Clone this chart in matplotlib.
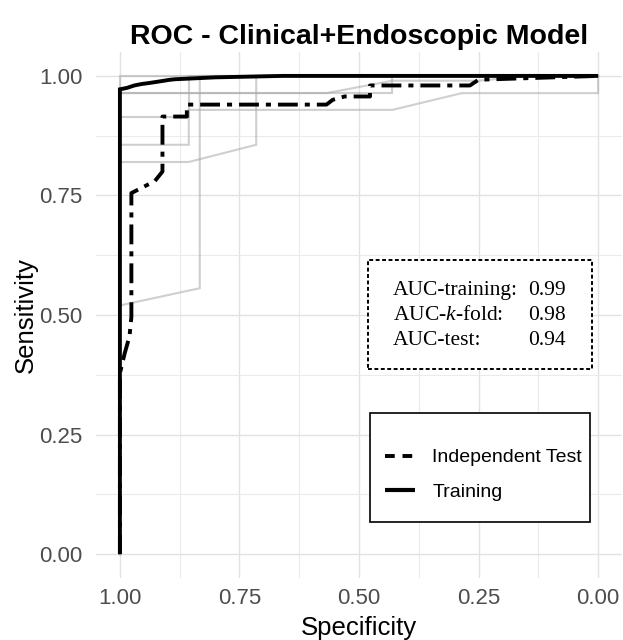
import matplotlib
matplotlib.use("Agg")
import matplotlib.pyplot as plt
from matplotlib.lines import Line2D
from matplotlib.patches import Rectangle

plt.rcParams['font.family'] = ['Liberation Sans', 'DejaVu Sans']
plt.rcParams['mathtext.fontset'] = 'custom'
plt.rcParams['mathtext.rm'] = 'Liberation Serif'
plt.rcParams['mathtext.it'] = 'Liberation Serif:italic'

# ---------------- data ----------------
title = "ROC - Clinical+Endoscopic Model"
x_label = "Specificity"
y_label = "Sensitivity"
tick_values = [1.00, 0.75, 0.50, 0.25, 0.00]
tick_labels = ["1.00", "0.75", "0.50", "0.25", "0.00"]

train_spec = [1.0, 1.0, 0.985, 0.97, 0.955, 0.94, 0.92, 0.895, 0.885, 0.80, 0.66, 0.0]
train_sens = [0.0, 0.972, 0.975, 0.980, 0.983, 0.985, 0.988, 0.992, 0.993, 0.997, 1.0, 1.0]

test_spec = [1.0, 1.0, 0.99, 0.98, 0.976, 0.976, 0.927, 0.911, 0.911, 0.86, 0.86,
             0.568, 0.555, 0.53, 0.477, 0.477, 0.268, 0.25, 0.0]
test_sens = [0.0, 0.378, 0.42, 0.455, 0.496, 0.755, 0.78, 0.80, 0.915, 0.915, 0.94,
             0.94, 0.95, 0.957, 0.957, 0.98, 0.98, 0.992, 1.0]

fold1_spec = [1.0, 1.0, 0.833, 0.833, 0.0]
fold1_sens = [0.0, 0.52, 0.556, 1.0, 1.0]
fold2_spec = [1.0, 1.0, 0.856, 0.715, 0.715, 0.0]
fold2_sens = [0.0, 0.82, 0.82, 0.856, 1.0, 1.0]
fold3_spec = [1.0, 1.0, 0.856, 0.856, 0.43, 0.285, 0.0, 0.0]
fold3_sens = [0.0, 0.856, 0.856, 0.929, 0.929, 0.964, 0.964, 1.0]
fold4_spec = [1.0, 1.0, 0.856, 0.856, 0.0]
fold4_sens = [0.0, 0.915, 0.915, 1.0, 1.0]
fold5_spec = [1.0, 1.0, 0.568, 0.43, 0.25, 0.14, 0.0]
fold5_sens = [0.0, 0.964, 0.964, 0.99, 0.99, 1.0, 1.0]
fold6_spec = [1.0, 1.0, 0.0]
fold6_sens = [0.0, 1.0, 1.0]
fold7_spec = [1.0, 1.0, 0.43, 0.43, 0.0]
fold7_sens = [0.0, 0.964, 0.964, 1.0, 1.0]

folds = [(fold1_spec, fold1_sens), (fold2_spec, fold2_sens), (fold3_spec, fold3_sens),
         (fold4_spec, fold4_sens), (fold5_spec, fold5_sens), (fold6_spec, fold6_sens),
         (fold7_spec, fold7_sens)]

auc_names = ["AUC-training:", "AUC-$k$-fold:", "AUC-test:"]
auc_values = ["0.99", "0.98", "0.94"]
legend_labels = ["Independent Test", "Training"]

# ---------------- figure ----------------
W, H = 623, 640
fig = plt.figure(figsize=(W / 100, H / 100), dpi=100)
fig.patch.set_facecolor('white')

def fx(px):
    return px / W

def fy(py):
    return 1 - py / H

ax = fig.add_axes([fx(96), fy(578), 526 / W, 526 / H])
ax.set_xlim(1.05, -0.05)
ax.set_ylim(-0.05, 1.05)

ax.set_xticks(tick_values)
ax.set_xticklabels(tick_labels)
ax.set_yticks(tick_values[::-1])
ax.set_yticklabels(tick_labels[::-1])
ax.set_xticks([0.875, 0.625, 0.375, 0.125], minor=True)
ax.set_yticks([0.125, 0.375, 0.625, 0.875], minor=True)
ax.grid(which='major', color='#e2e2e2', lw=1.0)
ax.grid(which='minor', color='#ebebeb', lw=0.8)
ax.set_axisbelow(True)
for s in ax.spines.values():
    s.set_visible(False)
ax.tick_params(which='both', length=0)
ax.tick_params(axis='x', labelsize=16, labelcolor='#4d4d4d', pad=7)
ax.tick_params(axis='y', labelsize=16, labelcolor='#4d4d4d', pad=9.5)

for fs, fsn in folds:
    ax.plot(fs, fsn, color='#a8a8a8', alpha=0.55, lw=1.5, solid_joinstyle='miter', zorder=2)

ax.plot(train_spec, train_sens, color='black', lw=2.8, zorder=3,
        solid_capstyle='butt', solid_joinstyle='miter')
ax.plot(test_spec, test_sens, color='black', lw=2.8, zorder=4,
        dashes=(5.1, 1.8, 1.3, 1.8), dash_capstyle='butt')

ax.set_xlabel(x_label, fontsize=18.5, color='black', labelpad=5)
ax.set_ylabel(y_label, fontsize=18.5, color='black', labelpad=1)

fig.text(fx(359), fy(44), title, fontsize=20.5, fontweight='bold',
         ha='center', va='baseline')

# AUC box
auc_box = Rectangle((fx(368), fy(369)), 224 / W, 109 / H, transform=fig.transFigure,
                    facecolor='white', edgecolor='black', lw=1.4,
                    linestyle=(0, (2, 1.3)), zorder=5, clip_on=False)
ax.add_artist(auc_box)
for i, (nm, val) in enumerate(zip(auc_names, auc_values)):
    yb = 295 + 25 * i
    ax.text(fx(393), fy(yb), nm, transform=fig.transFigure, fontsize=15.5,
            family='Liberation Serif', ha='left', va='baseline', zorder=6)
    ax.text(fx(528), fy(yb), val, transform=fig.transFigure, fontsize=15.5,
            family='Liberation Serif', ha='left', va='baseline', zorder=6)

# Legend box
leg_box = Rectangle((fx(370), fy(522)), 220 / W, 109 / H, transform=fig.transFigure,
                    facecolor='white', edgecolor='black', lw=1.2, zorder=5, clip_on=False)
ax.add_artist(leg_box)
handles = [Line2D([], [], color='black', lw=2.8, dashes=(2.5, 2.0), dash_capstyle='butt'),
           Line2D([], [], color='black', lw=3.0, solid_capstyle='butt')]
leg = ax.legend(handles, legend_labels, loc='center left',
                bbox_to_anchor=(fx(385), fy(475)), bbox_transform=fig.transFigure,
                frameon=False, fontsize=14, handlelength=1.55, handletextpad=0.88,
                labelspacing=0.88, borderpad=0, borderaxespad=0)
leg.set_zorder(7)

fig.savefig('out.png', dpi=100, facecolor='white')
